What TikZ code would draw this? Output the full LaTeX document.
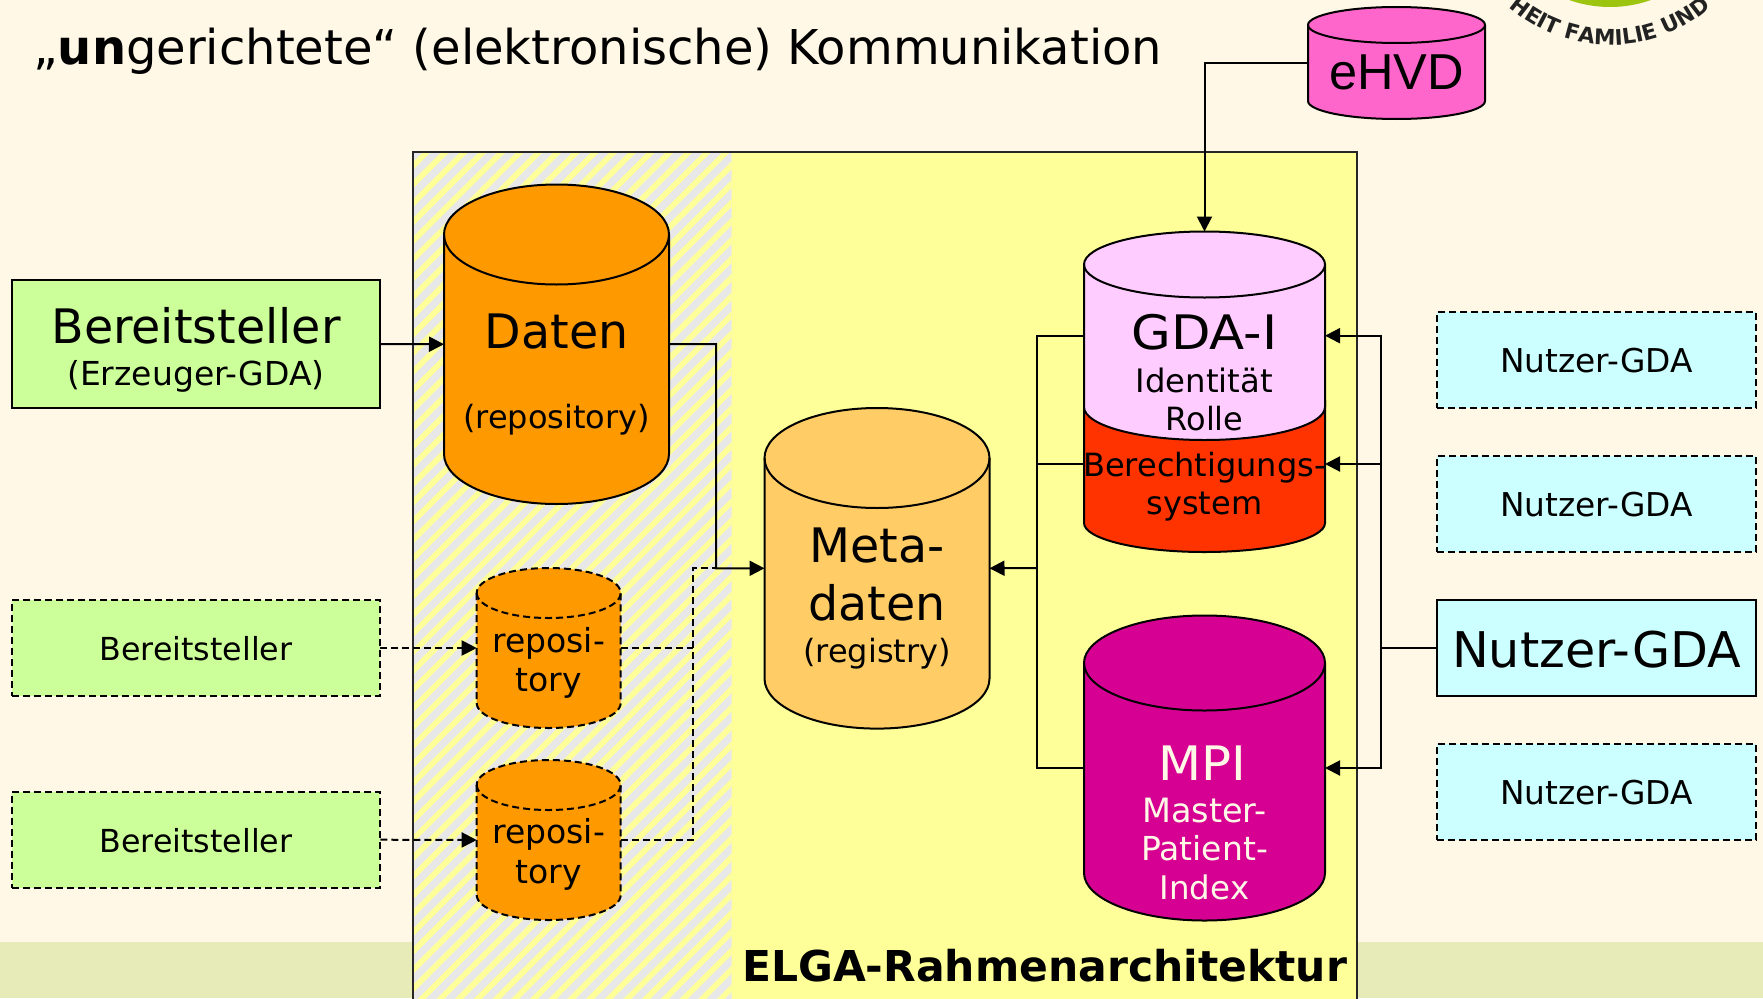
\documentclass[tikz,border=0pt]{standalone}
\usepackage{fontspec}
\setmainfont{DejaVu Sans}
\newfontfamily\arialfont{Liberation Sans}
\usetikzlibrary{arrows.meta,calc,decorations.text}
\definecolor{cream}{HTML}{FFF8E6}
\definecolor{bandcol}{HTML}{E6EBB8}
\definecolor{yel}{HTML}{FFFF99}
\definecolor{hatchgray}{HTML}{E8E8E8}
\definecolor{orangedb}{HTML}{FF9900}
\definecolor{metadb}{HTML}{FFCC66}
\definecolor{pinkdb}{HTML}{FFCCFF}
\definecolor{reddb}{HTML}{FF3300}
\definecolor{mpidb}{HTML}{D60093}
\definecolor{ehvddb}{HTML}{FF66CC}
\definecolor{greenbox}{HTML}{CCFF99}
\definecolor{cyanbox}{HTML}{CCFFFF}
\definecolor{logogreen}{HTML}{9DC40F}
\newcommand{\fs}[1]{\fontsize{#1}{#1}\selectfont}
% name, cx, rim top y, rim bottom y, rx, ry, fill, line style
\newcommand{\dbcyl}[8]{%
  \draw[#8,fill=#7] ({#2-#5},#3) -- ({#2-#5},#4)
    arc[start angle=180,end angle=360,x radius=#5 pt,y radius=#6 pt]
    -- ({#2+#5},#3)
    arc[start angle=0,end angle=180,x radius=#5 pt,y radius=#6 pt] -- cycle;
  \draw[#8] ({#2-#5},#3) arc[start angle=180,end angle=360,x radius=#5 pt,y radius=#6 pt];
  \node[inner sep=0pt,outer sep=0pt,minimum width={2*#5 pt},minimum height={(#4-#3+2*#6)*1pt}] (#1) at ({#2},{(#3+#4)/2}) {};
}
\tikzset{
  solidline/.style={line width=2pt,draw=black},
  dashline/.style={line width=2pt,draw=black,dash pattern=on 7pt off 4pt},
  conn/.style={line width=2pt,draw=black},
  connd/.style={line width=2pt,draw=black,dash pattern=on 7pt off 4pt},
  tip/.style={-{Triangle[length=15pt,width=15pt]}},
  lab/.style={anchor=base,inner sep=0pt,outer sep=0pt,text=black},
  bigbox/.style={draw=black,line width=2pt,inner sep=0pt,outer sep=0pt,anchor=north west},
}
\begin{document}
\begin{tikzpicture}[x=1pt,y=-1pt]
\useasboundingbox (0,0) rectangle (1763,998);
\clip (0,0) rectangle (1763,998);
\fill[cream] (0,0) rectangle (1763,998);
\fill[bandcol] (0,941.7) rectangle (1763,998);
% logo fragment
\fill[logogreen] (1610,-115) circle (122pt);
\path[postaction={decorate,decoration={text along path,text align=center,
   text={|\fs{21.5}\bfseries\color[HTML]{222222}|HEIT FAMILIE UND}}}]
   (1484.6,-20.2) arc[start angle=215,end angle=325,radius=153pt];
% frame
\fill[yel] (412.5,152) rectangle (1357,1010);
\begin{scope}
  \clip (412.5,152) rectangle (731.7,1010);
  \fill[hatchgray] (412.5,152) rectangle (731.7,1010);
  \foreach \k in {-2,...,66} {
    \draw[yel,line width=5.6pt] ({579+\k*18.7-160+60},100) -- ({579+\k*18.7-160-1100},1260);
  }
\end{scope}
\draw[line width=2pt,draw=black!85] (412.5,1010) -- (412.5,152) -- (1357,152) -- (1357,1010);
% title
\node[lab,anchor=base west] (title) at (33,65) {\fs{48}„\textbf{un}gerichtete“ (elektronische) Kommunikation};
% boxes
\node[bigbox,fill=greenbox,minimum width=368pt,minimum height=128pt] (prov) at (12.4,280) {};
\node[lab] (provA) at (196,343) {\fs{47.5}Bereitsteller};
\node[lab] (provB) at (196,385) {\fs{33}(Erzeuger-GDA)};
\node[bigbox,dashline,fill=greenbox,minimum width=368pt,minimum height=96pt] (prov1) at (12.4,600) {};
\node[lab] (prov1t) at (196,660) {\fs{31.7}Bereitsteller};
\node[bigbox,dashline,fill=greenbox,minimum width=368pt,minimum height=96pt] (prov2) at (12.4,791.7) {};
\node[lab] (prov2t) at (196,852) {\fs{31.7}Bereitsteller};
\node[bigbox,dashline,fill=cyanbox,minimum width=319pt,minimum height=96pt] (use1) at (1437,311.6) {};
\node[lab] (use1t) at (1596.5,372) {\fs{32.8}Nutzer-GDA};
\node[bigbox,dashline,fill=cyanbox,minimum width=319pt,minimum height=96pt] (use2) at (1437,455.5) {};
\node[lab] (use2t) at (1596.5,516) {\fs{32.8}Nutzer-GDA};
\node[bigbox,fill=cyanbox,minimum width=319pt,minimum height=96pt] (use0) at (1437,600) {};
\node[lab] (use0t) at (1596.5,667) {\fs{49.2}Nutzer-GDA};
\node[bigbox,dashline,fill=cyanbox,minimum width=319pt,minimum height=96pt] (use3) at (1437,744) {};
\node[lab] (use3t) at (1596.5,804) {\fs{32.8}Nutzer-GDA};
% cylinders
\dbcyl{ehvd}{1396.5}{25}{101}{88.5}{18}{ehvddb}{solidline}
\node[lab] (ehvdt) at (1396.5,89) {\arialfont\fs{50.5}eHVD};
\dbcyl{daten}{556.5}{234.5}{454}{112.5}{50}{orangedb}{solidline}
\node[lab] (datenA) at (556.5,348.6) {\fs{47.5}Daten};
\node[lab] (datenB) at (556.5,428) {\fs{32}(repository)};
\dbcyl{repoa}{548.7}{593}{703}{72}{25}{orangedb}{dashline}
\node[lab] (repoaA) at (548.7,652) {\fs{33}reposi-};
\node[lab] (repoaB) at (548.7,691) {\fs{33}tory};
\dbcyl{repob}{548.7}{785}{895}{72}{25}{orangedb}{dashline}
\node[lab] (repobA) at (548.7,843) {\fs{33}reposi-};
\node[lab] (repobB) at (548.7,883) {\fs{33}tory};
\dbcyl{meta}{877}{458}{678.6}{112.5}{50}{metadb}{solidline}
\node[lab] (metaA) at (877,562) {\fs{47.5}Meta-};
\node[lab] (metaB) at (877,620.7) {\fs{47.5}daten};
\node[lab] (metaC) at (877,662) {\fs{32}(registry)};
\dbcyl{berech}{1204.5}{400}{523}{120.5}{29}{reddb}{solidline}
\dbcyl{gdai}{1204.5}{264.5}{407}{120.5}{33}{pinkdb}{solidline}
\node[lab] (gdaA) at (1204.5,349) {\fs{47.5}\scalebox{1.08}[1]{GDA-I}};
\node[lab] (gdaB) at (1204.5,392) {\fs{32.3}Identität};
\node[lab] (gdaC) at (1204.5,430) {\fs{32}Rolle};
\node[lab] (berA) at (1204.5,476) {\fs{32}Berechtigungs-};
\node[lab] (berB) at (1204.5,514) {\fs{32}system};
\dbcyl{mpi}{1204.5}{663}{873}{120.5}{47.5}{mpidb}{solidline}
\node[lab,text=cream] (mpiA) at (1202.5,780) {\fs{47.5}\scalebox{1.05}[1]{MPI}};
\node[lab,text=cream] (mpiB) at (1204.5,822) {\fs{33.5}Master-};
\node[lab,text=cream] (mpiC) at (1204.5,860.5) {\fs{33}Patient-};
\node[lab,text=cream] (mpiD) at (1204.5,899) {\fs{32.5}Index};
\node[lab] (elga) at (1044.6,981) {\fs{42.5}\textbf{ELGA-Rahmenarchitektur}};
% connector ports
\coordinate (gdaW) at (1084,335.7);
\coordinate (gdaE) at (1325,335.7);
\coordinate (berW) at (1084,464);
\coordinate (berE) at (1325,464);
\coordinate (leftbus) at (1036.7,568);
\coordinate (rightbus) at (1380.7,648);
\coordinate (datenbus) at (716,344);
\coordinate (dashbus) at (692.7,568);
% connectors
\draw[conn,tip] (prov.east) -- (daten.west);
\draw[conn,tip] (daten.east) -- (datenbus) -- (datenbus |- meta.west) -- (meta.west);
\draw[connd,tip] (prov1.east) -- (repoa.west);
\draw[connd,tip] (prov2.east) -- (repob.west);
\draw[connd] (repoa.east) -- (repoa.east -| dashbus);
\draw[connd] (repob.east) -- (repob.east -| dashbus) -- (dashbus) -- (dashbus -| datenbus);
\draw[conn] (gdaW) -- (gdaW -| leftbus) -- (mpi.west -| leftbus) -- (mpi.west);
\draw[conn] (berW) -- (berW -| leftbus);
\draw[conn,tip] (leftbus) -- (meta.east);
\draw[conn] (use0.west) -- (rightbus);
\draw[conn,tip] (rightbus) -- (gdaE -| rightbus) -- (gdaE);
\draw[conn,tip] (berE -| rightbus) -- (berE);
\draw[conn,tip] (rightbus) -- (mpi.east -| rightbus) -- (mpi.east);
\draw[conn,tip] (ehvd.west) -- (ehvd.west -| gdai.north) -- (gdai.north);
\end{tikzpicture}
\end{document}
